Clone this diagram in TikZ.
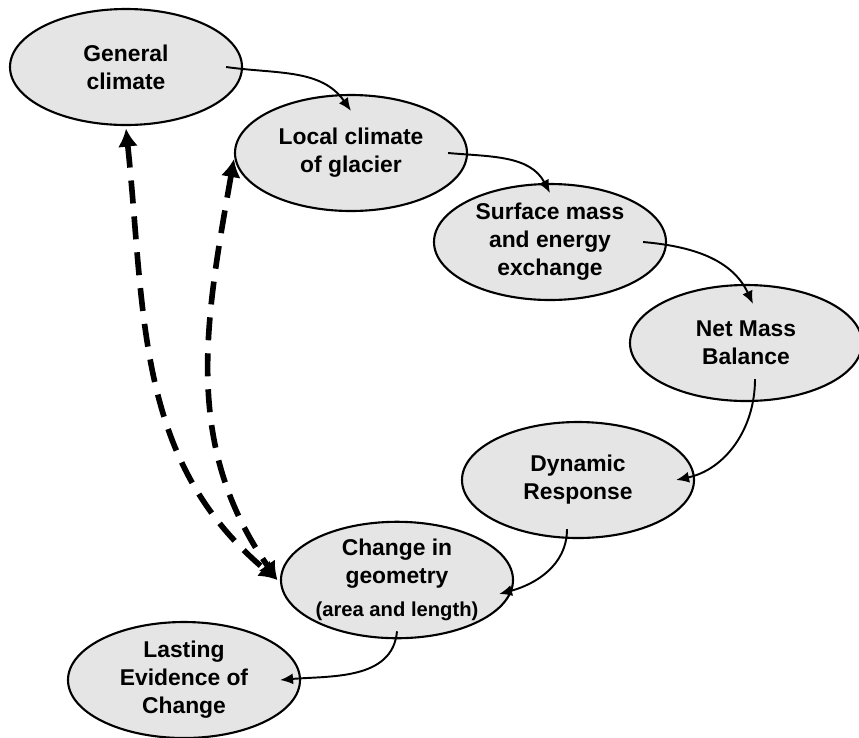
\documentclass[tikz,border=0pt]{standalone}
\usepackage{fontspec}
\setmainfont{Liberation Sans}
\usetikzlibrary{shapes.geometric,arrows.meta}
\tikzset{
  stage/.style={ellipse,draw,line width=1.2pt,fill=black!10,inner sep=0pt,
    minimum width=4.64cm,minimum height=2.32cm,align=center,
    font=\fontsize{13}{16}\selectfont\bfseries},
  flow/.style={-{Latex[length=2.6mm,width=2.2mm]},line width=1.1pt},
  feedback/.style={{Latex[length=3.6mm,width=4mm]}-{Latex[length=3.6mm,width=4mm]},
    line width=3.2pt,dash pattern=on 0.46cm off 0.26cm}
}
\begin{document}
\begin{tikzpicture}
\useasboundingbox (0,0) rectangle (17.18,-14.74);
%
\node [stage] (gen)  at (2.52,-1.34)  {General\\climate};
\node [stage] (loc)  at (7.02,-3.06)  {Local climate\\of glacier};
\node [stage] (surf) at (11.0,-4.84)  {Surface mass\\and energy\\exchange};
\node [stage] (net)  at (14.92,-6.86) {Net Mass\\Balance};
\node [stage] (dyn)  at (11.56,-9.6)  {Dynamic\\Response};
\node [stage] (geom) at (7.94,-11.6)  {Change in\\geometry\\[3pt]{\fontsize{11.5}{14}\selectfont(area and length)}};
\node [stage] (last) at (3.68,-13.6)  {Lasting\\Evidence of\\Change};
%
\draw [flow] ([xshift=-0.34cm]gen.east) to[out=-8,in=125] ([yshift=-0.34cm]loc.north);
\draw [flow] ([xshift=-0.4cm]loc.east) to[out=-5,in=118] ([yshift=-0.2cm]surf.north);
\draw [flow] ([xshift=-0.48cm]surf.east) to[out=-5,in=115] ([xshift=0.14cm,yshift=-0.4cm]net.north);
\draw [flow] ([xshift=0.18cm,yshift=0.46cm]net.south) to[out=-90,in=12] ([xshift=-0.38cm]dyn.east);
\draw [flow] ([xshift=-0.22cm,yshift=0.2cm]dyn.south) to[out=-90,in=15] ([xshift=-0.3cm,yshift=-0.28cm]geom.east);
\draw [flow] ([yshift=0.16cm]geom.south) to[out=-95,in=5] ([xshift=-0.42cm]last.east);
%
\draw [feedback] ([yshift=-0.05cm]gen.south) to[out=-84,in=140] ([xshift=-0.05cm]geom.west);
\draw [feedback] ([yshift=-0.12cm]loc.west) to[out=-100,in=125] ([xshift=-0.05cm]geom.west);
%
\end{tikzpicture}
\end{document}
